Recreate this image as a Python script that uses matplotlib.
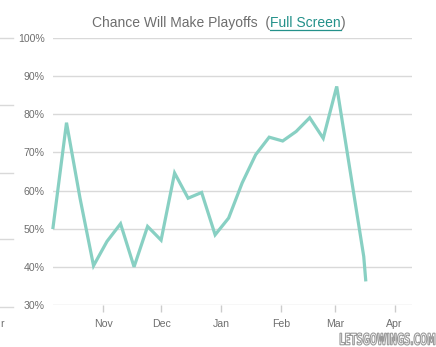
import matplotlib
matplotlib.use("Agg")
import matplotlib.pyplot as plt
import matplotlib.dates as mdates
from matplotlib.textpath import TextPath
from matplotlib.patches import PathPatch
from matplotlib.font_manager import FontProperties
from matplotlib.transforms import Affine2D
from matplotlib.lines import Line2D
import pandas as pd

plt.rcParams['font.family'] = ['Liberation Sans', 'DejaVu Sans']

# ---- data ----
dates = ["2013-10-06", "2013-10-13", "2013-10-20", "2013-10-27", "2013-11-03",
         "2013-11-10", "2013-11-17", "2013-11-24", "2013-12-01", "2013-12-08",
         "2013-12-15", "2013-12-22", "2013-12-29", "2014-01-05", "2014-01-12",
         "2014-01-19", "2014-01-26", "2014-02-02", "2014-02-09", "2014-02-16",
         "2014-02-23", "2014-03-02", "2014-03-09", "2014-03-16", "2014-03-17"]
chance = [50.3, 77.8, 58.0, 40.3, 46.7, 51.3, 40.0, 50.6, 47.0, 64.6,
          58.0, 59.5, 48.4, 52.8, 62.0, 69.4, 74.0, 73.0, 75.5, 79.1,
          73.7, 87.3, 65.0, 42.7, 36.6]
y_ticks = [30, 40, 50, 60, 70, 80, 90, 100]
title_main = "Chance Will Make Playoffs  ("
title_link = "Full Screen"
title_end = ")"
watermark = "LETSGOWINGS.COM"

W, H = 436, 347
fig = plt.figure(figsize=(W / 100, H / 100), dpi=100)
fig.patch.set_facecolor("white")

def fx(x):
    return x / W

def fy(y):
    return 1 - y / H

ax = fig.add_axes([fx(53), fy(305), fx(412) - fx(53), fy(38) - fy(305)])
x = pd.to_datetime(dates)
ax.plot(x, chance, color="#88d0c3", lw=2.3, solid_joinstyle="miter", zorder=3,
        clip_on=False)

ax.set_ylim(30, 100)
ax.set_xlim(pd.Timestamp("2013-10-06"), pd.Timestamp("2014-04-10"))
ax.set_yticks(y_ticks)
ax.set_yticklabels([f"{v}%" for v in y_ticks])
ax.yaxis.grid(True, color="#d9d9d9", lw=1)
ax.set_axisbelow(True)
ax.xaxis.set_major_locator(mdates.MonthLocator())
ax.xaxis.set_major_formatter(mdates.DateFormatter("%b"))
for s in ax.spines.values():
    s.set_visible(False)
ax.tick_params(axis="y", length=0, pad=6, labelsize=7.6, labelcolor="#6e6e6e")
ax.tick_params(axis="x", length=5, width=1, color="#cccccc", pad=5,
               labelsize=7.6, labelcolor="#6e6e6e")

# title pieces
fig.canvas.draw()
r = fig.canvas.get_renderer()
xpos = 92
tsize = 10
t1 = fig.text(fx(xpos), fy(23), title_main, color="#6e6e6e", fontsize=tsize, va="center", ha="left")
bb = t1.get_window_extent(r)
t2 = fig.text(bb.x1 / W, fy(23), title_link, color="#23918a", fontsize=tsize, va="center", ha="left")
bb2 = t2.get_window_extent(r)
fig.text(bb2.x1 / W, fy(23), title_end, color="#6e6e6e", fontsize=tsize, va="center", ha="left")
fig.add_artist(Line2D([bb2.x0 / W, bb2.x1 / W], [fy(30), fy(30)], color="#23918a", lw=0.9))

# stub of the neighbouring chart at the left edge
for yy in [38, 105, 173, 239, 307]:
    fig.add_artist(Line2D([0, fx(13)], [fy(yy), fy(yy)], color="#d9d9d9", lw=1))
fig.text(0, fy(324), "r", color="#6e6e6e", fontsize=7.6, va="center", ha="left")

# watermark
fp = FontProperties(family="DejaVu Sans", weight="bold")
tp = TextPath((0, 0), watermark, size=10, prop=fp)
ext = tp.get_extents()
sx = 95 / ext.width
sy = 12 / ext.height
tr = Affine2D().translate(-ext.x0, -ext.y0).scale(sx, sy).translate(340, H - 345)
patch = PathPatch(tr.transform_path(tp), facecolor="white", edgecolor="#9a9a9a", lw=0.8,
                  transform=None, zorder=10)
fig.add_artist(patch)

fig.savefig("out.png", dpi=100)
